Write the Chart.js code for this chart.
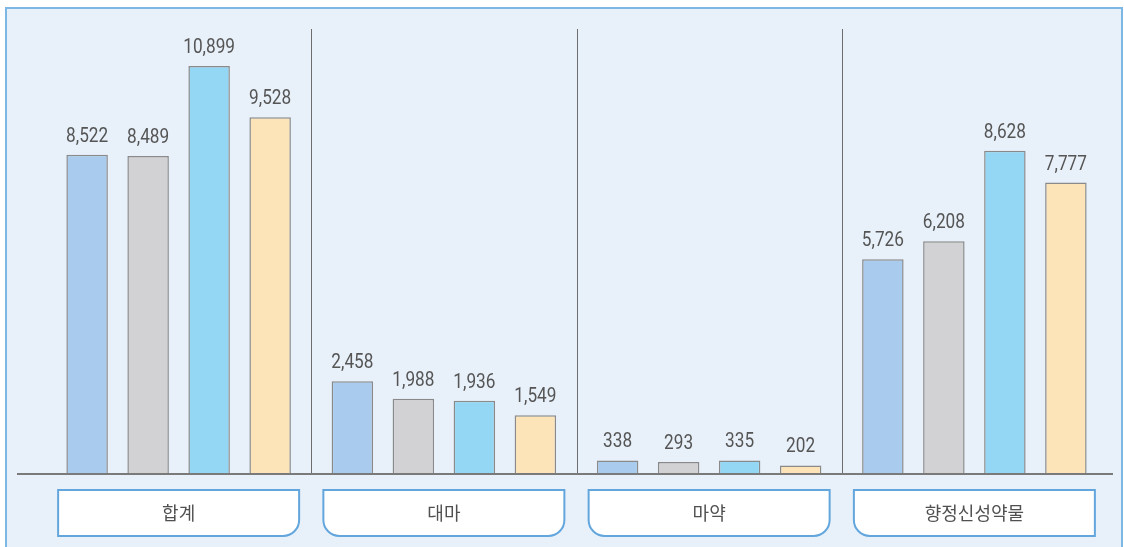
<!DOCTYPE html>
<html>
<head>
<meta charset="utf-8">
<script src="https://cdn.jsdelivr.net/npm/chart.js@4.4.0/dist/chart.umd.min.js"></script>
<style>
  html,body{margin:0;padding:0;background:#fff;}
  #wrap{position:relative;width:1124px;height:547px;}
  #frame{position:absolute;left:5px;top:7px;width:1118px;height:545px;border:2px solid #7db7e6;background:#e8f1fa;box-sizing:border-box;}
  canvas{position:absolute;left:0;top:0;}
</style>
</head>
<body>
<div id="wrap">
  <div id="frame"></div>
  <canvas id="c" width="1124" height="547"></canvas>
</div>
<script>
/* 마약류 유형별 현황 */
const categories = ['합계','대마','마약','향정신성약물'];
const series1 = [8522, 2458, 338, 5726];
const series2 = [8489, 1988, 293, 6208];
const series3 = [10899, 1936, 335, 8628];
const series4 = [9528, 1549, 202, 7777];
const barColors = ['#a8cbee','#d2d2d4','#94d7f5','#fde3b8'];
const borderCol = '#8a8a8a';

function fmt(v){ return v.toLocaleString('en-US'); }

function roundBox(ctx, x, y, w, h, rl, rr){
  ctx.beginPath();
  ctx.moveTo(x, y);
  ctx.lineTo(x+w, y);
  ctx.lineTo(x+w, y+h-rr);
  if(rr) ctx.arcTo(x+w, y+h, x+w-rr, y+h, rr);
  ctx.lineTo(x+rl, y+h);
  if(rl) ctx.arcTo(x, y+h, x, y+h-rl, rl);
  ctx.closePath();
}

const decor = {
  id:'decor',
  afterDatasetsDraw(chart){
    const ctx = chart.ctx, a = chart.chartArea, xs = chart.scales.x;
    ctx.save();
    // group separators
    ctx.strokeStyle = '#6e6e6e'; ctx.lineWidth = 1;
    for(let i=1;i<categories.length;i++){
      const x = Math.round((xs.getPixelForValue(i-1)+xs.getPixelForValue(i))/2)+0.5;
      ctx.beginPath(); ctx.moveTo(x, a.top); ctx.lineTo(x, a.bottom); ctx.stroke();
    }
    // baseline
    ctx.strokeStyle = '#7a7a7a'; ctx.lineWidth = 2;
    ctx.beginPath(); ctx.moveTo(17, a.bottom+1); ctx.lineTo(1113, a.bottom+1); ctx.stroke();
    // value labels
    ctx.fillStyle = '#555'; ctx.font = '21px Roboto'; ctx.textAlign = 'center'; ctx.textBaseline = 'alphabetic';
    chart.data.datasets.forEach((ds, di) => {
      chart.getDatasetMeta(di).data.forEach((bar, i) => {
        ctx.save();
        ctx.translate(bar.x, bar.y - 13);
        ctx.scale(0.82, 1);
        ctx.fillText(fmt(ds.data[i]), 0, 0);
        ctx.restore();
      });
    });
    // category boxes
    const bw = 241, by = 490, bh = 46, r = 16;
    categories.forEach((c, i) => {
      const cx = xs.getPixelForValue(i);
      const rl = i > 0 ? r : 0, rr = i < categories.length-1 ? r : 0;
      roundBox(ctx, cx - bw/2, by, bw, bh, rl, rr);
      ctx.fillStyle = '#fff'; ctx.fill();
      ctx.strokeStyle = '#62a6dd'; ctx.lineWidth = 2; ctx.stroke();
      ctx.fillStyle = '#505050'; ctx.font = '18px "Noto Sans CJK KR"'; ctx.textBaseline = 'middle';
      ctx.fillText(c, cx, by + bh/2);
    });
    ctx.restore();
  }
};

const mk = (data, i) => ({data, backgroundColor:barColors[i], borderColor:borderCol, borderWidth:1.5,
  categoryPercentage:0.92, barPercentage:0.68});

new Chart(document.getElementById('c'), {
  type:'bar',
  data:{labels:categories, datasets:[mk(series1,0),mk(series2,1),mk(series3,2),mk(series4,3)]},
  options:{
    responsive:false, animation:false,
    layout:{padding:{left:46, right:17, top:29, bottom:74}},
    plugins:{legend:{display:false}, tooltip:{enabled:false}},
    scales:{
      x:{display:false},
      y:{display:false, min:0, max:11890}
    }
  },
  plugins:[decor]
});
</script>
</body>
</html>
